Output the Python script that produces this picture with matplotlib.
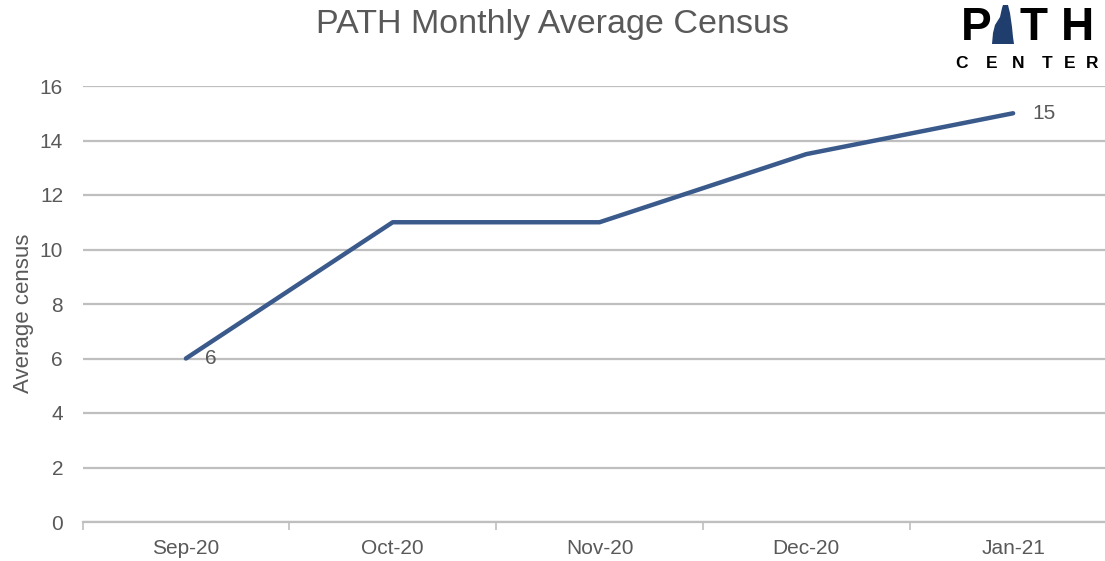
import matplotlib
matplotlib.use("Agg")
import matplotlib.pyplot as plt
from matplotlib.patches import Polygon

months = ["Sep-20", "Oct-20", "Nov-20", "Dec-20", "Jan-21"]
census = [6, 11, 11, 13.5, 15]
labeled = {0: "6", 4: "15"}
yticks = [0, 2, 4, 6, 8, 10, 12, 14, 16]

W, H = 1105, 561
plt.rcParams["font.family"] = ["Liberation Sans", "DejaVu Sans"]
text_color = "#595959"
grid_color = "#BFBFBF"
line_color = "#3A5A8B"

fig = plt.figure(figsize=(W / 100, H / 100), dpi=100)
ax = fig.add_axes([82.5 / W, 39 / H, 1034 / W, 436 / H])

x = list(range(len(months)))
ax.plot(x, census, color=line_color, linewidth=3.2, solid_capstyle="round", zorder=3)
for i, txt in labeled.items():
    ax.annotate(txt, (x[i], census[i]), xytext=(14, 0), textcoords="offset points",
                ha="left", va="center", fontsize=15, color=text_color)

ax.set_xlim(-0.5, len(months) - 0.5)
ax.set_ylim(0, 16)
ax.set_yticks(yticks)
ax.set_xticks(x)
ax.set_xticklabels(months)
ax.set_xticks([i - 0.5 for i in range(len(months) + 1)], minor=True)
ax.grid(axis="y", color=grid_color, linewidth=1.6)
ax.set_axisbelow(True)
for s in ["top", "right", "left"]:
    ax.spines[s].set_visible(False)
ax.spines["bottom"].set_color(grid_color)
ax.spines["bottom"].set_linewidth(1.6)
ax.tick_params(axis="y", length=0, labelsize=15, colors=text_color, pad=14)
ax.tick_params(axis="x", which="major", length=0, labelsize=15, colors=text_color, pad=12)
ax.tick_params(axis="x", which="minor", length=6, width=1.2, color=grid_color)
ax.set_ylabel("Average census", fontsize=16, color=text_color)
ax.yaxis.set_label_coords(-49 / 1034, 0.479)

fig.text(552 / W, 1 - 25 / H, "PATH Monthly Average Census", ha="center", va="center",
         fontsize=24.5, color=text_color)

# logo
for ch, px in [("P", 976), ("T", 1033), ("H", 1077)]:
    fig.text(px / W, 1 - 28 / H, ch, ha="center", va="center", fontsize=33,
             fontweight="bold", color="black")
nh = [(1003, 5), (1008, 5), (1010, 13), (1012, 27), (1013, 37), (1014, 44),
      (992, 44), (993, 33), (995, 25), (1000, 17), (1002, 8)]
fig.patches.append(Polygon([(px / W, 1 - py / H) for px, py in nh], closed=True,
                           transform=fig.transFigure, facecolor="#1F3E6E",
                           edgecolor="none"))
for ch, px in zip("CENTER", [962, 992, 1018, 1047, 1070, 1092]):
    fig.text(px / W, 1 - 64 / H, ch, ha="center", va="center", fontsize=12.5,
             fontweight="bold", color="black")

fig.savefig("out.png", dpi=100)
